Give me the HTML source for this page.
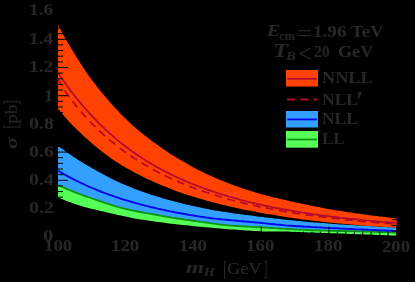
<!DOCTYPE html><html><head><meta charset="utf-8"><style>
html,body{margin:0;padding:0;background:#000;}
#c{position:relative;width:415px;height:282px;background:#000;overflow:hidden;font-family:"Liberation Serif",serif;color:#2a2627;}
.t{position:absolute;white-space:nowrap;line-height:1;transform-origin:0 0;will-change:transform;}
#r{position:absolute;left:0;top:147.7px;width:0;height:0;transform-origin:0 0;transform:rotate(-90deg);}
</style></head><body><div id="c">
<svg width="415" height="282" viewBox="0 0 415 282" style="position:absolute;left:0;top:0">
<path d="M58.0,170.8 L60.8,172.4 L63.7,174.1 L66.5,175.6 L69.4,177.2 L72.2,178.7 L75.1,180.1 L77.9,181.5 L80.8,182.9 L83.6,184.2 L86.5,185.5 L89.3,186.8 L92.1,188.0 L95.0,189.2 L97.8,190.4 L100.7,191.5 L103.5,192.6 L106.4,193.6 L109.2,194.7 L112.1,195.7 L114.9,196.7 L117.8,197.6 L120.6,198.6 L123.4,199.5 L126.3,200.3 L129.1,201.2 L132.0,202.0 L134.8,202.8 L137.7,203.6 L140.5,204.4 L143.4,205.1 L146.2,205.9 L149.1,206.6 L151.9,207.3 L154.7,207.9 L157.6,208.6 L160.4,209.2 L163.3,209.9 L166.1,210.5 L169.0,211.1 L171.8,211.6 L174.7,212.2 L177.5,212.7 L180.4,213.3 L183.2,213.8 L186.0,214.3 L188.9,214.8 L191.7,215.2 L194.6,215.7 L197.4,216.2 L200.3,216.6 L203.1,217.0 L206.0,217.5 L208.8,217.9 L211.7,218.3 L214.5,218.6 L217.3,218.9 L220.2,219.2 L223.0,219.5 L225.9,219.7 L228.7,220.0 L231.6,220.3 L234.4,220.5 L237.3,220.8 L240.1,221.1 L242.9,221.3 L245.8,221.6 L248.6,221.8 L251.5,222.1 L254.3,222.3 L257.2,222.6 L260.0,222.8 L262.9,223.1 L265.7,223.4 L268.6,223.7 L271.4,224.0 L274.2,224.3 L277.1,224.6 L279.9,224.8 L282.8,225.1 L285.6,225.4 L288.5,225.6 L291.3,225.8 L294.2,226.0 L297.0,226.2 L299.9,226.3 L302.7,226.5 L305.5,226.7 L308.4,226.8 L311.2,227.0 L314.1,227.1 L316.9,227.3 L319.8,227.4 L322.6,227.6 L325.5,227.8 L328.3,227.9 L331.2,228.1 L334.0,228.2 L336.8,228.3 L339.7,228.5 L342.5,228.6 L345.4,228.8 L348.2,228.9 L351.1,229.0 L353.9,229.1 L356.8,229.3 L359.6,229.4 L362.5,229.5 L365.3,229.6 L368.1,229.8 L371.0,229.9 L373.8,230.0 L376.7,230.2 L379.5,230.3 L382.4,230.4 L385.2,230.5 L388.1,230.7 L390.9,230.8 L393.8,230.9 L396.6,231.1 L396.6,235.6 L393.8,235.5 L390.9,235.4 L388.1,235.3 L385.2,235.2 L382.4,235.1 L379.5,235.0 L376.7,234.9 L373.8,234.8 L371.0,234.6 L368.1,234.5 L365.3,234.4 L362.5,234.3 L359.6,234.2 L356.8,234.2 L353.9,234.1 L351.1,234.0 L348.2,233.8 L345.4,233.7 L342.5,233.6 L339.7,233.5 L336.8,233.4 L334.0,233.3 L331.2,233.2 L328.3,233.1 L325.5,233.0 L322.6,232.9 L319.8,232.8 L316.9,232.7 L314.1,232.6 L311.2,232.5 L308.4,232.4 L305.5,232.3 L302.7,232.2 L299.9,232.1 L297.0,232.0 L294.2,231.9 L291.3,231.7 L288.5,231.6 L285.6,231.5 L282.8,231.5 L279.9,231.5 L277.1,231.5 L274.2,231.5 L271.4,231.5 L268.6,231.5 L265.7,231.5 L262.9,231.4 L260.0,231.3 L257.2,231.1 L254.3,231.0 L251.5,230.8 L248.6,230.6 L245.8,230.4 L242.9,230.2 L240.1,230.0 L237.3,229.8 L234.4,229.6 L231.6,229.4 L228.7,229.2 L225.9,229.0 L223.0,228.8 L220.2,228.5 L217.3,228.3 L214.5,228.1 L211.7,227.8 L208.8,227.6 L206.0,227.3 L203.1,227.0 L200.3,226.8 L197.4,226.5 L194.6,226.2 L191.7,225.9 L188.9,225.6 L186.0,225.3 L183.2,225.0 L180.4,224.7 L177.5,224.4 L174.7,224.0 L171.8,223.7 L169.0,223.4 L166.1,223.0 L163.3,222.6 L160.4,222.3 L157.6,221.9 L154.7,221.5 L151.9,221.1 L149.1,220.7 L146.2,220.2 L143.4,219.8 L140.5,219.4 L137.7,218.9 L134.8,218.4 L132.0,217.9 L129.1,217.3 L126.3,216.7 L123.4,216.1 L120.6,215.5 L117.8,214.9 L114.9,214.3 L112.1,213.6 L109.2,213.0 L106.4,212.3 L103.5,211.6 L100.7,211.0 L97.8,210.3 L95.0,209.6 L92.1,208.9 L89.3,208.2 L86.5,207.4 L83.6,206.7 L80.8,205.8 L77.9,205.0 L75.1,204.0 L72.2,203.0 L69.4,202.0 L66.5,200.9 L63.7,199.7 L60.8,198.6 L58.0,197.4Z" fill="#55ff55"/>
<path d="M58.0,145.9 L60.8,148.0 L63.7,150.1 L66.5,152.1 L69.4,154.0 L72.2,156.0 L75.1,157.8 L77.9,159.7 L80.8,161.5 L83.6,163.2 L86.5,164.9 L89.3,166.6 L92.1,168.2 L95.0,169.8 L97.8,171.4 L100.7,173.0 L103.5,174.5 L106.4,176.0 L109.2,177.5 L112.1,179.0 L114.9,180.4 L117.8,181.7 L120.6,183.0 L123.4,184.2 L126.3,185.4 L129.1,186.6 L132.0,187.7 L134.8,188.9 L137.7,189.9 L140.5,191.0 L143.4,192.0 L146.2,193.0 L149.1,194.0 L151.9,194.9 L154.7,195.8 L157.6,196.7 L160.4,197.6 L163.3,198.4 L166.1,199.2 L169.0,200.0 L171.8,200.8 L174.7,201.5 L177.5,202.3 L180.4,203.0 L183.2,203.7 L186.0,204.4 L188.9,205.0 L191.7,205.7 L194.6,206.3 L197.4,207.0 L200.3,207.6 L203.1,208.2 L206.0,208.7 L208.8,209.3 L211.7,209.9 L214.5,210.4 L217.3,210.8 L220.2,211.3 L223.0,211.7 L225.9,212.1 L228.7,212.5 L231.6,213.0 L234.4,213.4 L237.3,213.8 L240.1,214.2 L242.9,214.5 L245.8,214.9 L248.6,215.3 L251.5,215.6 L254.3,216.0 L257.2,216.4 L260.0,216.7 L262.9,217.1 L265.7,217.4 L268.6,217.8 L271.4,218.1 L274.2,218.5 L277.1,218.8 L279.9,219.1 L282.8,219.4 L285.6,219.7 L288.5,220.0 L291.3,220.3 L294.2,220.6 L297.0,220.9 L299.9,221.1 L302.7,221.4 L305.5,221.7 L308.4,221.9 L311.2,222.2 L314.1,222.4 L316.9,222.6 L319.8,222.9 L322.6,223.1 L325.5,223.3 L328.3,223.5 L331.2,223.7 L334.0,224.0 L336.8,224.2 L339.7,224.4 L342.5,224.6 L345.4,224.7 L348.2,224.9 L351.1,225.1 L353.9,225.3 L356.8,225.5 L359.6,225.6 L362.5,225.8 L365.3,226.0 L368.1,226.1 L371.0,226.3 L373.8,226.4 L376.7,226.6 L379.5,226.7 L382.4,226.9 L385.2,227.0 L388.1,227.2 L390.9,227.3 L393.8,227.4 L396.6,227.6 L396.6,232.6 L393.8,232.5 L390.9,232.4 L388.1,232.3 L385.2,232.2 L382.4,232.1 L379.5,232.0 L376.7,231.9 L373.8,231.8 L371.0,231.7 L368.1,231.6 L365.3,231.5 L362.5,231.4 L359.6,231.3 L356.8,231.3 L353.9,231.2 L351.1,231.1 L348.2,231.1 L345.4,231.1 L342.5,231.0 L339.7,231.0 L336.8,230.9 L334.0,230.9 L331.2,230.8 L328.3,230.8 L325.5,230.7 L322.6,230.6 L319.8,230.5 L316.9,230.4 L314.1,230.3 L311.2,230.1 L308.4,230.0 L305.5,229.9 L302.7,229.7 L299.9,229.6 L297.0,229.5 L294.2,229.3 L291.3,229.1 L288.5,229.0 L285.6,228.8 L282.8,228.7 L279.9,228.5 L277.1,228.3 L274.2,228.2 L271.4,228.0 L268.6,227.8 L265.7,227.6 L262.9,227.4 L260.0,227.2 L257.2,227.1 L254.3,226.9 L251.5,226.8 L248.6,226.6 L245.8,226.5 L242.9,226.3 L240.1,226.2 L237.3,226.0 L234.4,225.8 L231.6,225.6 L228.7,225.4 L225.9,225.1 L223.0,224.8 L220.2,224.5 L217.3,224.1 L214.5,223.7 L211.7,223.3 L208.8,222.9 L206.0,222.5 L203.1,222.1 L200.3,221.8 L197.4,221.4 L194.6,221.0 L191.7,220.6 L188.9,220.2 L186.0,219.8 L183.2,219.3 L180.4,218.9 L177.5,218.5 L174.7,218.0 L171.8,217.6 L169.0,217.1 L166.1,216.6 L163.3,216.2 L160.4,215.7 L157.6,215.2 L154.7,214.7 L151.9,214.2 L149.1,213.7 L146.2,213.2 L143.4,212.6 L140.5,212.0 L137.7,211.5 L134.8,210.9 L132.0,210.3 L129.1,209.6 L126.3,209.0 L123.4,208.3 L120.6,207.6 L117.8,206.9 L114.9,206.1 L112.1,205.2 L109.2,204.2 L106.4,203.3 L103.5,202.3 L100.7,201.3 L97.8,200.3 L95.0,199.4 L92.1,198.5 L89.3,197.5 L86.5,196.6 L83.6,195.6 L80.8,194.5 L77.9,193.4 L75.1,192.3 L72.2,191.2 L69.4,190.0 L66.5,188.8 L63.7,187.6 L60.8,186.3 L58.0,185.0Z" fill="#33a0ff"/>
<path d="M58.0,185.0 L60.8,186.3 L63.7,187.6 L66.5,188.8 L69.4,190.0 L72.2,191.2 L75.1,192.3 L77.9,193.4 L80.8,194.5 L83.6,195.6 L86.5,196.6 L89.3,197.5 L92.1,198.5 L95.0,199.4 L97.8,200.3 L100.7,201.3 L103.5,202.3 L106.4,203.3 L109.2,204.2 L112.1,205.2 L114.9,206.1 L117.8,206.9 L120.6,207.6 L123.4,208.3 L126.3,209.0 L129.1,209.6 L132.0,210.3 L134.8,210.9 L137.7,211.5 L140.5,212.0 L143.4,212.6 L146.2,213.2 L149.1,213.7 L151.9,214.2 L154.7,214.7 L157.6,215.2 L160.4,215.7 L163.3,216.2 L166.1,216.6 L169.0,217.1 L171.8,217.6 L174.7,218.0 L177.5,218.5 L180.4,218.9 L183.2,219.3 L186.0,219.8 L188.9,220.2 L191.7,220.6 L194.6,221.0 L197.4,221.4 L200.3,221.8 L203.1,222.1 L206.0,222.5 L208.8,222.9 L211.7,223.3 L214.5,223.7 L217.3,224.1 L220.2,224.5 L223.0,224.8 L225.9,225.1 L228.7,225.4 L231.6,225.6 L234.4,225.8 L237.3,226.0 L240.1,226.2 L242.9,226.3 L245.8,226.5 L248.6,226.6 L251.5,226.8 L254.3,226.9 L257.2,227.1 L260.0,227.2 L262.9,227.4 L265.7,227.6 L268.6,227.8 L271.4,228.0 L274.2,228.2 L277.1,228.3 L279.9,228.5 L282.8,228.7 L285.6,228.8 L288.5,229.0 L291.3,229.1 L294.2,229.3 L297.0,229.5 L299.9,229.6 L302.7,229.7 L305.5,229.9 L308.4,230.0 L311.2,230.1 L314.1,230.3 L316.9,230.4 L319.8,230.5 L322.6,230.6 L325.5,230.7 L328.3,230.8 L331.2,230.8 L334.0,230.9 L336.8,230.9 L339.7,231.0 L342.5,231.0 L345.4,231.1 L348.2,231.1 L351.1,231.1 L353.9,231.2 L356.8,231.3 L359.6,231.3 L362.5,231.4 L365.3,231.5 L368.1,231.6 L371.0,231.7 L373.8,231.8 L376.7,231.9 L379.5,232.0 L382.4,232.1 L385.2,232.2 L388.1,232.3 L390.9,232.4 L393.8,232.5 L396.6,232.6" fill="none" stroke="#0c9414" stroke-width="1.8"/>
<path d="M58.0,170.8 L60.8,172.4 L63.7,174.1 L66.5,175.6 L69.4,177.2 L72.2,178.7 L75.1,180.1 L77.9,181.5 L80.8,182.9 L83.6,184.2 L86.5,185.5 L89.3,186.8 L92.1,188.0 L95.0,189.2 L97.8,190.4 L100.7,191.5 L103.5,192.6 L106.4,193.6 L109.2,194.7 L112.1,195.7 L114.9,196.7 L117.8,197.6 L120.6,198.6 L123.4,199.5 L126.3,200.3 L129.1,201.2 L132.0,202.0 L134.8,202.8 L137.7,203.6 L140.5,204.4 L143.4,205.1 L146.2,205.9 L149.1,206.6 L151.9,207.3 L154.7,207.9 L157.6,208.6 L160.4,209.2 L163.3,209.9 L166.1,210.5 L169.0,211.1 L171.8,211.6 L174.7,212.2 L177.5,212.7 L180.4,213.3 L183.2,213.8 L186.0,214.3 L188.9,214.8 L191.7,215.2 L194.6,215.7 L197.4,216.2 L200.3,216.6 L203.1,217.0 L206.0,217.5 L208.8,217.9 L211.7,218.3 L214.5,218.6 L217.3,218.9 L220.2,219.2 L223.0,219.5 L225.9,219.7 L228.7,220.0 L231.6,220.3 L234.4,220.5 L237.3,220.8 L240.1,221.1 L242.9,221.3 L245.8,221.6 L248.6,221.8 L251.5,222.1 L254.3,222.3 L257.2,222.6 L260.0,222.8 L262.9,223.1 L265.7,223.4 L268.6,223.7 L271.4,224.0 L274.2,224.3 L277.1,224.6 L279.9,224.8 L282.8,225.1 L285.6,225.4 L288.5,225.6 L291.3,225.8 L294.2,226.0 L297.0,226.2 L299.9,226.3 L302.7,226.5 L305.5,226.7 L308.4,226.8 L311.2,227.0 L314.1,227.1 L316.9,227.3 L319.8,227.4 L322.6,227.6 L325.5,227.8 L328.3,227.9 L331.2,228.1 L334.0,228.2 L336.8,228.3 L339.7,228.5 L342.5,228.6 L345.4,228.8 L348.2,228.9 L351.1,229.0 L353.9,229.1 L356.8,229.3 L359.6,229.4 L362.5,229.5 L365.3,229.6 L368.1,229.8 L371.0,229.9 L373.8,230.0 L376.7,230.2 L379.5,230.3 L382.4,230.4 L385.2,230.5 L388.1,230.7 L390.9,230.8 L393.8,230.9 L396.6,231.1" fill="none" stroke="#0606e6" stroke-width="1.9"/>
<path d="M58.0,24.9 L60.8,30.2 L63.7,35.4 L66.5,40.4 L69.4,45.3 L72.2,50.0 L75.1,54.7 L77.9,59.3 L80.8,63.8 L83.6,68.2 L86.5,72.4 L89.3,76.4 L92.1,80.3 L95.0,84.1 L97.8,87.7 L100.7,91.3 L103.5,94.8 L106.4,98.1 L109.2,101.4 L112.1,104.6 L114.9,107.7 L117.8,110.7 L120.6,113.7 L123.4,116.6 L126.3,119.3 L129.1,122.0 L132.0,124.7 L134.8,127.2 L137.7,129.7 L140.5,132.1 L143.4,134.4 L146.2,136.6 L149.1,138.8 L151.9,141.0 L154.7,143.1 L157.6,145.1 L160.4,147.1 L163.3,149.1 L166.1,151.0 L169.0,152.9 L171.8,154.7 L174.7,156.5 L177.5,158.2 L180.4,159.9 L183.2,161.5 L186.0,163.1 L188.9,164.8 L191.7,166.4 L194.6,168.0 L197.4,169.5 L200.3,170.9 L203.1,172.3 L206.0,173.7 L208.8,175.0 L211.7,176.3 L214.5,177.5 L217.3,178.7 L220.2,179.9 L223.0,181.1 L225.9,182.2 L228.7,183.3 L231.6,184.4 L234.4,185.4 L237.3,186.4 L240.1,187.4 L242.9,188.4 L245.8,189.4 L248.6,190.3 L251.5,191.2 L254.3,192.1 L257.2,192.9 L260.0,193.7 L262.9,194.5 L265.7,195.3 L268.6,196.0 L271.4,196.7 L274.2,197.4 L277.1,198.1 L279.9,198.8 L282.8,199.4 L285.6,200.1 L288.5,200.7 L291.3,201.4 L294.2,202.0 L297.0,202.7 L299.9,203.3 L302.7,203.9 L305.5,204.5 L308.4,205.1 L311.2,205.7 L314.1,206.2 L316.9,206.8 L319.8,207.3 L322.6,207.9 L325.5,208.4 L328.3,208.9 L331.2,209.4 L334.0,209.9 L336.8,210.4 L339.7,210.8 L342.5,211.3 L345.4,211.7 L348.2,212.2 L351.1,212.6 L353.9,213.0 L356.8,213.4 L359.6,213.8 L362.5,214.2 L365.3,214.6 L368.1,215.0 L371.0,215.4 L373.8,215.7 L376.7,216.1 L379.5,216.4 L382.4,216.8 L385.2,217.1 L388.1,217.4 L390.9,217.8 L393.8,218.1 L396.6,218.4 L396.6,227.6 L393.8,227.4 L390.9,227.3 L388.1,227.1 L385.2,227.0 L382.4,226.8 L379.5,226.6 L376.7,226.4 L373.8,226.3 L371.0,226.1 L368.1,225.9 L365.3,225.7 L362.5,225.5 L359.6,225.3 L356.8,225.1 L353.9,224.8 L351.1,224.6 L348.2,224.3 L345.4,224.1 L342.5,223.8 L339.7,223.6 L336.8,223.3 L334.0,223.0 L331.2,222.7 L328.3,222.4 L325.5,222.1 L322.6,221.8 L319.8,221.5 L316.9,221.1 L314.1,220.8 L311.2,220.5 L308.4,220.1 L305.5,219.8 L302.7,219.4 L299.9,219.0 L297.0,218.6 L294.2,218.2 L291.3,217.8 L288.5,217.4 L285.6,216.9 L282.8,216.5 L279.9,216.0 L277.1,215.6 L274.2,215.1 L271.4,214.6 L268.6,214.2 L265.7,213.7 L262.9,213.2 L260.0,212.7 L257.2,212.2 L254.3,211.6 L251.5,211.1 L248.6,210.5 L245.8,210.0 L242.9,209.4 L240.1,208.8 L237.3,208.2 L234.4,207.5 L231.6,206.9 L228.7,206.2 L225.9,205.6 L223.0,204.9 L220.2,204.2 L217.3,203.5 L214.5,202.7 L211.7,202.0 L208.8,201.2 L206.0,200.4 L203.1,199.6 L200.3,198.8 L197.4,198.0 L194.6,197.1 L191.7,196.2 L188.9,195.3 L186.0,194.4 L183.2,193.4 L180.4,192.4 L177.5,191.4 L174.7,190.4 L171.8,189.3 L169.0,188.2 L166.1,187.1 L163.3,186.0 L160.4,184.8 L157.6,183.5 L154.7,182.3 L151.9,181.0 L149.1,179.7 L146.2,178.4 L143.4,177.0 L140.5,175.6 L137.7,174.1 L134.8,172.7 L132.0,171.1 L129.1,169.6 L126.3,167.9 L123.4,166.2 L120.6,164.5 L117.8,162.7 L114.9,160.9 L112.1,159.0 L109.2,157.0 L106.4,154.9 L103.5,152.8 L100.7,150.6 L97.8,148.3 L95.0,146.0 L92.1,143.6 L89.3,141.1 L86.5,138.6 L83.6,136.0 L80.8,133.3 L77.9,130.6 L75.1,127.8 L72.2,124.9 L69.4,121.9 L66.5,118.7 L63.7,115.5 L60.8,112.1 L58.0,108.7Z" fill="#ff4200"/>
<path d="M58.0,78.9 L60.8,84.1 L63.7,89.0 L66.5,93.3 L69.4,97.3 L72.2,101.0 L75.1,104.6 L77.9,108.1 L80.8,111.4 L83.6,114.6 L86.5,117.8 L89.3,120.8 L92.1,123.7 L95.0,126.6 L97.8,129.4 L100.7,132.1 L103.5,134.7 L106.4,137.2 L109.2,139.6 L112.1,141.9 L114.9,144.2 L117.8,146.4 L120.6,148.6 L123.4,150.7 L126.3,152.8 L129.1,154.7 L132.0,156.7 L134.8,158.6 L137.7,160.4 L140.5,162.2 L143.4,163.9 L146.2,165.6 L149.1,167.3 L151.9,168.9 L154.7,170.4 L157.6,171.9 L160.4,173.4 L163.3,174.8 L166.1,176.2 L169.0,177.6 L171.8,178.9 L174.7,180.1 L177.5,181.4 L180.4,182.6 L183.2,183.8 L186.0,184.9 L188.9,186.0 L191.7,187.1 L194.6,188.2 L197.4,189.2 L200.3,190.2 L203.1,191.2 L206.0,192.2 L208.8,193.1 L211.7,194.1 L214.5,195.0 L217.3,195.9 L220.2,196.7 L223.0,197.6 L225.9,198.4 L228.7,199.2 L231.6,200.0 L234.4,200.7 L237.3,201.4 L240.1,202.2 L242.9,202.9 L245.8,203.6 L248.6,204.2 L251.5,204.9 L254.3,205.5 L257.2,206.1 L260.0,206.8 L262.9,207.3 L265.7,207.9 L268.6,208.5 L271.4,209.0 L274.2,209.6 L277.1,210.1 L279.9,210.6 L282.8,211.1 L285.6,211.6 L288.5,212.1 L291.3,212.6 L294.2,213.0 L297.0,213.5 L299.9,213.9 L302.7,214.3 L305.5,214.7 L308.4,215.1 L311.2,215.5 L314.1,215.9 L316.9,216.3 L319.8,216.7 L322.6,217.0 L325.5,217.4 L328.3,217.7 L331.2,218.1 L334.0,218.4 L336.8,218.7 L339.7,219.0 L342.5,219.4 L345.4,219.7 L348.2,219.9 L351.1,220.2 L353.9,220.5 L356.8,220.8 L359.6,221.1 L362.5,221.3 L365.3,221.6 L368.1,221.8 L371.0,222.1 L373.8,222.3 L376.7,222.6 L379.5,222.8 L382.4,223.0 L385.2,223.2 L388.1,223.5 L390.9,223.7 L393.8,223.9 L396.6,224.1" fill="none" stroke="#b4082e" stroke-width="1.7" stroke-dasharray="8 5.3"/>
<path d="M58.0,72.7 L60.8,76.9 L63.7,81.0 L66.5,85.0 L69.4,88.9 L72.2,92.7 L75.1,96.4 L77.9,99.9 L80.8,103.4 L83.6,106.7 L86.5,110.0 L89.3,113.2 L92.1,116.2 L95.0,119.2 L97.8,122.1 L100.7,125.0 L103.5,127.7 L106.4,130.4 L109.2,132.9 L112.1,135.4 L114.9,137.9 L117.8,140.3 L120.6,142.6 L123.4,144.8 L126.3,147.0 L129.1,149.1 L132.0,151.2 L134.8,153.2 L137.7,155.2 L140.5,157.1 L143.4,158.9 L146.2,160.7 L149.1,162.5 L151.9,164.2 L154.7,165.8 L157.6,167.5 L160.4,169.0 L163.3,170.6 L166.1,172.0 L169.0,173.5 L171.8,174.9 L174.7,176.2 L177.5,177.6 L180.4,178.8 L183.2,180.1 L186.0,181.3 L188.9,182.5 L191.7,183.7 L194.6,184.8 L197.4,185.9 L200.3,187.0 L203.1,188.0 L206.0,189.1 L208.8,190.1 L211.7,191.1 L214.5,192.0 L217.3,193.0 L220.2,193.9 L223.0,194.8 L225.9,195.6 L228.7,196.5 L231.6,197.3 L234.4,198.1 L237.3,198.9 L240.1,199.7 L242.9,200.4 L245.8,201.2 L248.6,201.9 L251.5,202.6 L254.3,203.2 L257.2,203.9 L260.0,204.5 L262.9,205.2 L265.7,205.8 L268.6,206.4 L271.4,207.0 L274.2,207.5 L277.1,208.1 L279.9,208.6 L282.8,209.2 L285.6,209.7 L288.5,210.2 L291.3,210.7 L294.2,211.2 L297.0,211.7 L299.9,212.1 L302.7,212.6 L305.5,213.0 L308.4,213.4 L311.2,213.9 L314.1,214.3 L316.9,214.7 L319.8,215.1 L322.6,215.4 L325.5,215.8 L328.3,216.2 L331.2,216.5 L334.0,216.9 L336.8,217.2 L339.7,217.6 L342.5,217.9 L345.4,218.2 L348.2,218.5 L351.1,218.8 L353.9,219.1 L356.8,219.4 L359.6,219.7 L362.5,220.0 L365.3,220.3 L368.1,220.5 L371.0,220.8 L373.8,221.0 L376.7,221.3 L379.5,221.5 L382.4,221.8 L385.2,222.0 L388.1,222.2 L390.9,222.5 L393.8,222.7 L396.6,222.9" fill="none" stroke="#b4082e" stroke-width="1.7"/>
<path d="M58.0,236.7h10M396.6,236.7h-10M58.0,231.1h5M396.6,231.1h-5M58.0,225.4h5M396.6,225.4h-5M58.0,219.8h5M396.6,219.8h-5M58.0,214.1h5M396.6,214.1h-5M58.0,208.5h10M396.6,208.5h-10M58.0,202.9h5M396.6,202.9h-5M58.0,197.2h5M396.6,197.2h-5M58.0,191.6h5M396.6,191.6h-5M58.0,185.9h5M396.6,185.9h-5M58.0,180.3h10M396.6,180.3h-10M58.0,174.7h5M396.6,174.7h-5M58.0,169.0h5M396.6,169.0h-5M58.0,163.4h5M396.6,163.4h-5M58.0,157.7h5M396.6,157.7h-5M58.0,152.1h10M396.6,152.1h-10M58.0,146.5h5M396.6,146.5h-5M58.0,140.8h5M396.6,140.8h-5M58.0,135.2h5M396.6,135.2h-5M58.0,129.5h5M396.6,129.5h-5M58.0,123.9h10M396.6,123.9h-10M58.0,118.3h5M396.6,118.3h-5M58.0,112.6h5M396.6,112.6h-5M58.0,107.0h5M396.6,107.0h-5M58.0,101.3h5M396.6,101.3h-5M58.0,95.7h10M396.6,95.7h-10M58.0,90.1h5M396.6,90.1h-5M58.0,84.4h5M396.6,84.4h-5M58.0,78.8h5M396.6,78.8h-5M58.0,73.1h5M396.6,73.1h-5M58.0,67.5h10M396.6,67.5h-10M58.0,61.9h5M396.6,61.9h-5M58.0,56.2h5M396.6,56.2h-5M58.0,50.6h5M396.6,50.6h-5M58.0,44.9h5M396.6,44.9h-5M58.0,39.3h10M396.6,39.3h-10M58.0,33.7h5M396.6,33.7h-5M58.0,28.0h5M396.6,28.0h-5M58.0,22.4h5M396.6,22.4h-5M58.0,16.7h5M396.6,16.7h-5M58.0,11.1h10M396.6,11.1h-10M58.0,236.7v-10M66.5,236.7v-5M74.9,236.7v-5M83.4,236.7v-5M91.9,236.7v-5M100.3,236.7v-5M108.8,236.7v-5M117.3,236.7v-5M125.7,236.7v-10M134.2,236.7v-5M142.7,236.7v-5M151.1,236.7v-5M159.6,236.7v-5M168.0,236.7v-5M176.5,236.7v-5M185.0,236.7v-5M193.4,236.7v-10M201.9,236.7v-5M210.4,236.7v-5M218.8,236.7v-5M227.3,236.7v-5M235.8,236.7v-5M244.2,236.7v-5M252.7,236.7v-5M261.2,236.7v-10M269.6,236.7v-5M278.1,236.7v-5M286.6,236.7v-5M295.0,236.7v-5M303.5,236.7v-5M312.0,236.7v-5M320.4,236.7v-5M328.9,236.7v-10M337.3,236.7v-5M345.8,236.7v-5M354.3,236.7v-5M362.7,236.7v-5M371.2,236.7v-5M379.7,236.7v-5M388.1,236.7v-5M396.6,236.7v-10" stroke="#000" stroke-width="1" fill="none"/>
<rect x="286" y="70" width="32" height="16.5" fill="#ff4200"/><path d="M287.3,78.8H317" stroke="#b4082e" stroke-width="1.7"/>
<path d="M287,99.5H317" stroke="#b4082e" stroke-width="2.2" stroke-dasharray="8 5.3"/>
<rect x="286" y="111" width="32" height="16.5" fill="#33a0ff"/><path d="M287.3,119.4H317" stroke="#0606e6" stroke-width="1.8"/>
<rect x="286" y="131" width="32" height="16.7" fill="#55ff55"/><path d="M287.3,139.5H317" stroke="#0c9414" stroke-width="1.8"/>
</svg>
<div class="t" style="left:29.44px;top:2.05px;font-size:16.76px;transform:scaleX(1.1616);font-weight:bold;">1.6</div>
<div class="t" style="left:29.46px;top:30.21px;font-size:17.01px;transform:scaleX(1.1346);font-weight:bold;">1.4</div>
<div class="t" style="left:29.43px;top:58.41px;font-size:17.01px;transform:scaleX(1.1546);font-weight:bold;">1.2</div>
<div class="t" style="left:43.73px;top:86.56px;font-size:17.27px;transform:scaleX(1.0640);font-weight:bold;">1</div>
<div class="t" style="left:28.90px;top:114.64px;font-size:17.01px;transform:scaleX(1.1754);font-weight:bold;">0.8</div>
<div class="t" style="left:28.90px;top:142.84px;font-size:17.01px;transform:scaleX(1.1754);font-weight:bold;">0.6</div>
<div class="t" style="left:28.91px;top:171.04px;font-size:17.01px;transform:scaleX(1.1656);font-weight:bold;">0.4</div>
<div class="t" style="left:28.89px;top:199.24px;font-size:17.01px;transform:scaleX(1.1855);font-weight:bold;">0.2</div>
<div class="t" style="left:43.47px;top:226.84px;font-size:17.01px;transform:scaleX(1.2174);font-weight:bold;">0</div>
<div class="t" style="left:43.50px;top:238.12px;font-size:16.91px;transform:scaleX(1.1098);font-weight:bold;">100</div>
<div class="t" style="left:111.29px;top:238.12px;font-size:16.91px;transform:scaleX(1.1141);font-weight:bold;">120</div>
<div class="t" style="left:179.01px;top:238.12px;font-size:16.91px;transform:scaleX(1.1012);font-weight:bold;">140</div>
<div class="t" style="left:246.39px;top:238.12px;font-size:16.91px;transform:scaleX(1.1183);font-weight:bold;">160</div>
<div class="t" style="left:313.88px;top:238.12px;font-size:16.91px;transform:scaleX(1.1226);font-weight:bold;">180</div>
<div class="t" style="left:382.05px;top:237.91px;font-size:17.16px;transform:scaleX(1.0873);font-weight:bold;">200</div>
<div class="t" style="left:321.64px;top:69.00px;font-size:17.23px;transform:scaleX(1.0562);font-weight:bold;">NNLL</div>
<div class="t" style="left:321.65px;top:91.03px;font-size:17.08px;transform:scaleX(1.0240);font-weight:bold;">NLL</div>
<div class="t" style="left:355.70px;top:88.37px;font-size:27.39px;transform:scaleX(0.9909);font-weight:bold;">&prime;</div>
<div class="t" style="left:321.65px;top:109.80px;font-size:17.23px;transform:scaleX(1.0149);font-weight:bold;">NLL</div>
<div class="t" style="left:322.06px;top:129.90px;font-size:17.23px;transform:scaleX(0.9825);font-weight:bold;">LL</div>
<div class="t" style="left:266.60px;top:23.48px;font-size:16.77px;transform:scaleX(1.1832);font-style:italic;font-weight:bold;">E</div>
<div class="t" style="left:279.02px;top:29.40px;font-size:13.33px;transform:scaleX(0.9390);font-weight:bold;">cm</div>
<div class="t" style="left:296.99px;top:21.03px;font-size:25.60px;transform:scaleX(1.0223);-webkit-text-stroke:0.15px #2a2627;">=</div>
<div class="t" style="left:313.27px;top:23.90px;font-size:16.47px;transform:scaleX(1.1625);font-weight:bold;">1.96</div>
<div class="t" style="left:351.03px;top:23.82px;font-size:16.57px;transform:scaleX(1.1296);font-weight:bold;">TeV</div>
<div class="t" style="left:273.17px;top:43.39px;font-size:17.85px;transform:scaleX(1.3861);font-style:italic;font-weight:bold;">T</div>
<div class="t" style="left:285.94px;top:50.44px;font-size:12.00px;transform:scaleX(1.1979);font-style:italic;font-weight:bold;">B</div>
<div class="t" style="left:297.77px;top:41.52px;font-size:24.17px;transform:scaleX(1.0213);-webkit-text-stroke:0.15px #2a2627;">&lt;</div>
<div class="t" style="left:314.17px;top:43.62px;font-size:16.57px;transform:scaleX(0.9513);font-weight:bold;">20</div>
<div class="t" style="left:337.59px;top:43.34px;font-size:17.01px;transform:scaleX(1.0660);font-weight:bold;">GeV</div>
<div class="t" style="left:185.74px;top:260.05px;font-size:16.81px;transform:scaleX(1.3826);font-style:italic;font-weight:bold;">m</div>
<div class="t" style="left:203.84px;top:266.01px;font-size:12.15px;transform:scaleX(1.1377);font-style:italic;font-weight:bold;">H</div>
<div class="t" style="left:222.59px;top:258.35px;font-size:21.10px;transform:scaleX(0.6182);">[</div>
<div class="t" style="left:227.36px;top:259.70px;font-size:17.76px;transform:scaleX(1.0373);-webkit-text-stroke:0.15px #2a2627;">GeV</div>
<div class="t" style="left:263.34px;top:258.35px;font-size:21.10px;transform:scaleX(0.6679);">]</div>
<div id="r"><div class="t" style="left:-0.66px;top:4.27px;font-size:16.23px;transform:scaleX(1.3605);font-style:italic;font-weight:bold;">&sigma;</div><div class="t" style="left:18.94px;top:0.40px;font-size:20.00px;transform:scaleX(0.8261);">[</div><div class="t" style="left:24.31px;top:3.94px;font-size:16.11px;transform:scaleX(1.2084);-webkit-text-stroke:0.15px #2a2627;">pb</div><div class="t" style="left:42.82px;top:0.40px;font-size:20.00px;transform:scaleX(0.7273);">]</div></div>
</div></body></html>
